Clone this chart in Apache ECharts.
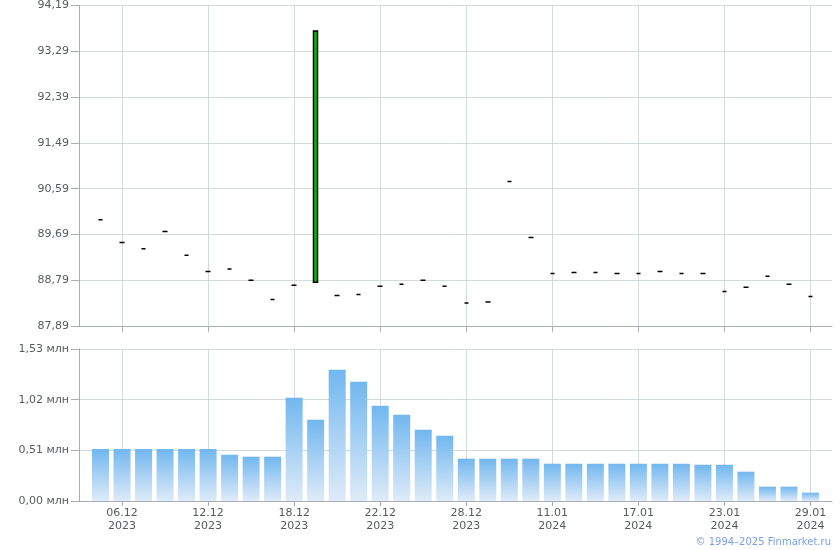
<!DOCTYPE html>
<html>
<head>
<meta charset="utf-8">
<script src="https://cdn.jsdelivr.net/npm/echarts@6/dist/echarts.min.js"></script>
<style>
html,body{margin:0;padding:0;background:#fff;}
#chart{width:840px;height:550px;}
</style>
</head>
<body>
<div id="chart"></div>
<script>
// Trading dates
const dates = ['05.12.2023','06.12.2023','07.12.2023','08.12.2023','11.12.2023','12.12.2023','13.12.2023','14.12.2023','15.12.2023',
  '18.12.2023','19.12.2023','20.12.2023','21.12.2023','22.12.2023','25.12.2023','26.12.2023','27.12.2023','28.12.2023','29.12.2023',
  '09.01.2024','10.01.2024','11.01.2024','12.01.2024','15.01.2024','16.01.2024','17.01.2024','18.01.2024','19.01.2024','22.01.2024',
  '23.01.2024','24.01.2024','25.01.2024','26.01.2024','29.01.2024'];
// Prices
const priceOpen  = [89.98,89.53,89.41,89.75,89.28,88.96,89.01,88.79,88.41,88.69,88.75,88.49,88.51,88.67,88.71,88.79,88.67,88.34,88.36,90.73,89.63,88.92,88.94,88.94,88.92,88.92,88.96,88.92,88.92,88.57,88.65,88.87,88.71,88.47];
const priceClose = [89.98,89.53,89.41,89.75,89.28,88.96,89.01,88.79,88.41,88.69,93.69,88.49,88.51,88.67,88.71,88.79,88.67,88.34,88.36,90.73,89.63,88.92,88.94,88.94,88.92,88.92,88.96,88.92,88.92,88.57,88.65,88.87,88.71,88.47];
const priceLow   = [89.98,89.53,89.41,89.75,89.28,88.96,89.01,88.79,88.41,88.69,88.75,88.49,88.51,88.67,88.71,88.79,88.67,88.34,88.36,90.73,89.63,88.92,88.94,88.94,88.92,88.92,88.96,88.92,88.92,88.57,88.65,88.87,88.71,88.47];
const priceHigh  = [89.98,89.53,89.41,89.75,89.28,88.96,89.01,88.79,88.41,88.69,93.69,88.49,88.51,88.67,88.71,88.79,88.67,88.34,88.36,90.73,89.63,88.92,88.94,88.94,88.92,88.92,88.96,88.92,88.92,88.57,88.65,88.87,88.71,88.47];
// Volume, mln
const volume = [0.523,0.523,0.523,0.523,0.523,0.523,0.466,0.446,0.446,1.040,0.818,1.322,1.201,0.959,0.869,0.718,0.657,0.426,0.426,0.426,0.426,0.375,0.375,0.375,0.375,0.375,0.375,0.375,0.365,0.365,0.295,0.144,0.144,0.084];
// Tick labels
const priceTicks = [87.89,88.79,89.69,90.59,91.49,92.39,93.29,94.19];
const volumeTicks = [0,0.51,1.02,1.53];
const labelEvery = 4;
const labelOffset = 1;

// Padded category axis (one empty slot on each side)
const cats = [''].concat(dates).concat([' ']);
const candleData = [['-','-','-','-']].concat(dates.map((d,i)=>[priceOpen[i],priceClose[i],priceLow[i],priceHigh[i]])).concat([['-','-','-','-']]);
const volData = ['-'].concat(volume).concat(['-']);
const showIdx = (i) => i >= 1 && i <= dates.length && ((i - 1 - labelOffset) % labelEvery === 0);

const FONT = 'DejaVu Sans, Verdana, sans-serif';
const axisLineColor = '#a9aeb6';
const splitColor = '#d4d9de';
const labelColor = '#555a60';
const fmt = v => v.toFixed(2).replace('.', ',');

const chart = echarts.init(document.getElementById('chart'), null, {renderer:'canvas'});
chart.setOption({
  animation: false,
  backgroundColor: '#fff',
  grid: [
    {left: 79, right: 8, top: 5, height: 321},
    {left: 79, right: 8, top: 349, height: 152}
  ],
  xAxis: [
    {type:'category', gridIndex:0, data:cats, boundaryGap:false,
     axisLine:{lineStyle:{color:axisLineColor}},
     axisTick:{show:true, length:6, interval:showIdx, lineStyle:{color:axisLineColor}},
     axisLabel:{show:false, interval:showIdx},
     splitLine:{show:true, interval:showIdx, lineStyle:{color:splitColor}}},
    {type:'category', gridIndex:1, data:cats, boundaryGap:false,
     axisLine:{lineStyle:{color:axisLineColor}},
     axisTick:{show:true, length:5, interval:showIdx, lineStyle:{color:axisLineColor}},
     axisLabel:{show:true, interval:showIdx, color:labelColor, fontFamily:FONT, fontSize:11, lineHeight:13, margin:6,
       formatter: v => v.trim() ? v.slice(0,5) + '\n' + v.slice(6) : ''},
     splitLine:{show:true, interval:showIdx, lineStyle:{color:splitColor}}}
  ],
  yAxis: [
    {type:'value', gridIndex:0, min:priceTicks[0], max:priceTicks[priceTicks.length-1], scale:true,
     axisLine:{show:true, lineStyle:{color:axisLineColor}},
     axisTick:{show:true, length:8, customValues:priceTicks, lineStyle:{color:axisLineColor}},
     axisLabel:{customValues:priceTicks, color:labelColor, fontFamily:FONT, fontSize:11, margin:10, formatter: fmt},
     splitLine:{show:true, lineStyle:{color:splitColor}}},
    {type:'value', gridIndex:1, min:volumeTicks[0], max:volumeTicks[volumeTicks.length-1],
     axisLine:{show:true, lineStyle:{color:axisLineColor}},
     axisTick:{show:true, length:8, customValues:volumeTicks, lineStyle:{color:axisLineColor}},
     axisLabel:{customValues:volumeTicks, color:labelColor, fontFamily:FONT, fontSize:11, margin:10, formatter: v => fmt(v) + ' млн'},
     splitLine:{show:true, lineStyle:{color:splitColor}}}
  ],
  series: [
    {type:'candlestick', xAxisIndex:0, yAxisIndex:0, data:candleData, barWidth:5,
     itemStyle:{color:'#00c000', color0:'#e00000', borderColor:'#000', borderColor0:'#000', borderColorDoji:'#000', borderWidth:1.5}},
    {type:'bar', xAxisIndex:1, yAxisIndex:1, data:volData, barWidth:17,
     itemStyle:{color:new echarts.graphic.LinearGradient(0,0,0,1,[{offset:0,color:'#71b7ef'},{offset:1,color:'#dfebf8'}])}}
  ],
  graphic: [
    {type:'text', right:9, bottom:3, style:{text:'© 1994–2025 Finmarket.ru', fill:'#7b9fe6', font:'10px ' + FONT}}
  ]
});
</script>
</body>
</html>
